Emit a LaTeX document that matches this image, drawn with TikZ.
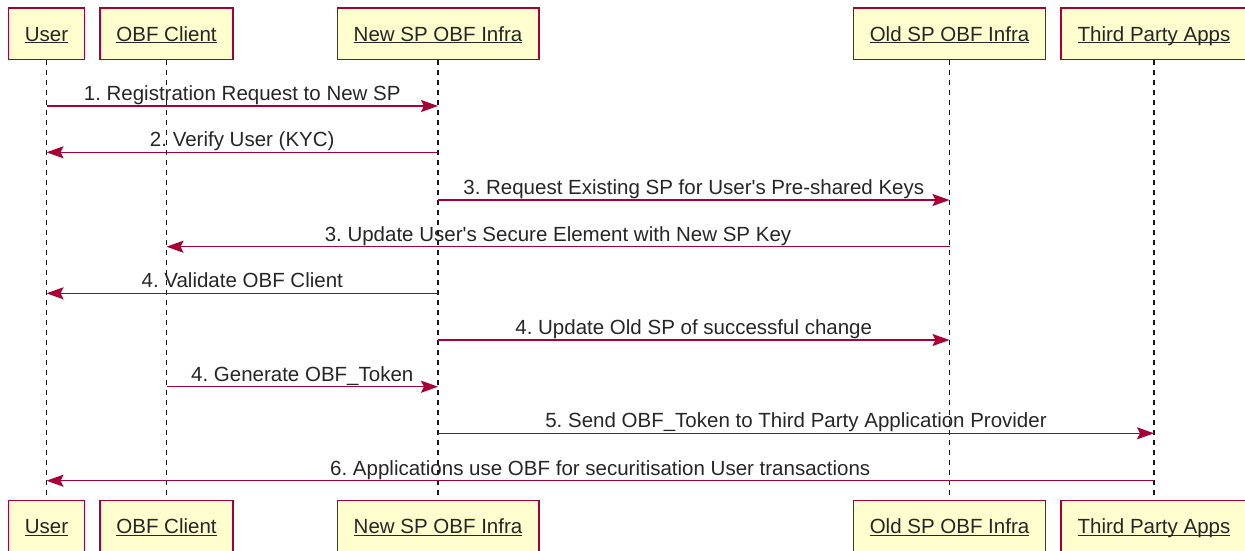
\documentclass[tikz,border=0pt]{standalone}
\usepackage{fontspec}
\setmainfont{Liberation Sans}
\usetikzlibrary{arrows.meta}
\definecolor{pumlred}{HTML}{A80036}
\definecolor{pumlfill}{HTML}{FEFECE}
\newcommand\pumlul[1]{\setbox0=\hbox{#1}\rlap{\rule[-2.4pt]{\wd0}{1.2pt}}\box0}
\frenchspacing
\begin{document}
\begin{tikzpicture}[x=1pt,y=-1pt,font=\fontsize{20.5}{24}\selectfont,
  part/.style={draw=pumlred, fill=pumlfill, line width=1.4pt, minimum height=51.5pt,
    inner xsep=16.5pt, inner ysep=0pt, text height=14.7pt, text depth=0pt, text=black!85},
  life/.style={draw=black!90, line width=1.3pt, dash pattern=on 5pt off 5pt},
  msg/.style={draw=pumlred, line width=1.5pt, -{Stealth[length=17pt,width=12pt,inset=3pt]}},
  lbl/.style={anchor=base, yshift=5.5pt, text=black!85, inner sep=0pt}]
\useasboundingbox (0,0) rectangle (1245,551);
% participants (top)
\node[part] (tu) at (46.5,33.75) {\pumlul{User}};
\node[part] (tc) at (166.5,33.75) {\pumlul{OBF Client}};
\node[part] (tn) at (438,33.75) {\pumlul{New SP OBF Infra}};
\node[part] (to) at (949.5,33.75) {\pumlul{Old SP OBF Infra}};
\node[part] (tt) at (1154,33.75) {\pumlul{Third Party Apps}};
% participants (bottom)
\node[part] (bu) at (46.5,526.25) {\pumlul{User}};
\node[part] (bc) at (166.5,526.25) {\pumlul{OBF Client}};
\node[part] (bn) at (438,526.25) {\pumlul{New SP OBF Infra}};
\node[part] (bo) at (949.5,526.25) {\pumlul{Old SP OBF Infra}};
\node[part] (bt) at (1154,526.25) {\pumlul{Third Party Apps}};
% lifelines
\draw[life] (tu.south) -- (bu.north);
\draw[life] (tc.south) -- (bc.north);
\draw[life] (tn.south) -- (bn.north);
\draw[life] (to.south) -- (bo.north);
\draw[life] (tt.south) -- (bt.north);
% message end points
\coordinate (m1a) at (tu |- 0,106);   \coordinate (m1b) at (tn |- 0,106);
\coordinate (m2a) at (tn |- 0,152.3); \coordinate (m2b) at (tu |- 0,152.3);
\coordinate (m3a) at (tn |- 0,200);   \coordinate (m3b) at (to |- 0,200);
\coordinate (m4a) at (to |- 0,246.7); \coordinate (m4b) at (tc |- 0,246.7);
\coordinate (m5a) at (tn |- 0,293.3); \coordinate (m5b) at (tu |- 0,293.3);
\coordinate (m6a) at (tn |- 0,340);   \coordinate (m6b) at (to |- 0,340);
\coordinate (m7a) at (tc |- 0,386.7); \coordinate (m7b) at (tn |- 0,386.7);
\coordinate (m8a) at (tn |- 0,433.3); \coordinate (m8b) at (tt |- 0,433.3);
\coordinate (m9a) at (tt |- 0,480.7); \coordinate (m9b) at (tu |- 0,480.7);
% messages
\draw[msg] (m1a) -- node[lbl]{1. Registration Request to New SP} (m1b);
\draw[msg] (m2a) -- node[lbl]{2. Verify User (KYC)} (m2b);
\draw[msg] (m3a) -- node[lbl]{3. Request Existing SP for User\textquotesingle s Pre-shared Keys} (m3b);
\draw[msg] (m4a) -- node[lbl]{3. Update User\textquotesingle s Secure Element with New SP Key} (m4b);
\draw[msg] (m5a) -- node[lbl]{4. Validate OBF Client} (m5b);
\draw[msg] (m6a) -- node[lbl]{4. Update Old SP of successful change} (m6b);
\draw[msg] (m7a) -- node[lbl]{4. Generate OBF\_Token} (m7b);
\draw[msg] (m8a) -- node[lbl]{5. Send OBF\_Token to Third Party Application Provider} (m8b);
\draw[msg] (m9a) -- node[lbl]{6. Applications use OBF for securitisation User transactions} (m9b);
\end{tikzpicture}
\end{document}
